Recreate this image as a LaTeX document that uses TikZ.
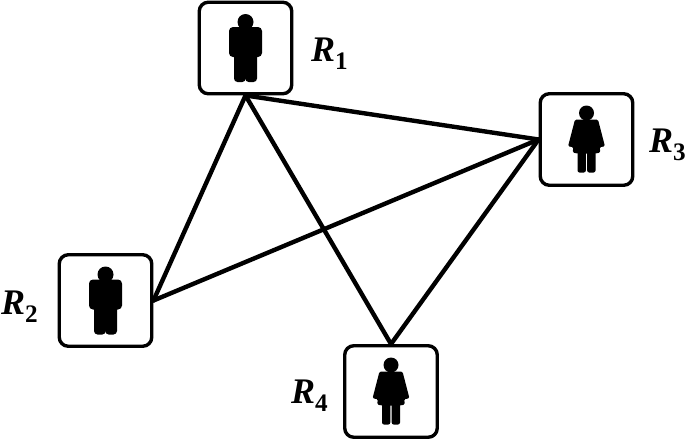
\documentclass[tikz,border=0pt]{standalone}
\usepackage{fontspec}
\setmainfont{Liberation Serif}
\tikzset{
  x=1pt,y=-1pt,
  personbox/.style={draw=black,line width=3.4pt,rounded corners=9pt,minimum width=92.5pt,minimum height=91.5pt,inner sep=0pt,fill=white},
  link/.style={draw=black,line width=4.4pt,line cap=round},
  rlabel/.style={inner sep=0pt,font=\fontsize{36}{36}\selectfont\bfseries\itshape},
  man/.pic={
    \fill[black] (0,-26) circle[radius=8];
    \fill[black,rounded corners=4pt] (-16.5,-21) rectangle (16.5,9);
    \fill[black,rounded corners=3.5pt] (-11.5,-10) rectangle (0.3,34);
    \fill[black,rounded corners=3.5pt] (-0.3,-10) rectangle (11.5,34);
  },
  woman/.pic={
    \fill[black] (0,-26.5) circle[radius=7.5];
    \fill[black,rounded corners=1.5pt] (-11.5,-20) -- (11.5,-20) -- (18.5,7) -- (13,7.5) -- (14,13) -- (9,14) -- (-9,14) -- (-14,13) -- (-13,7.5) -- (-18.5,7) -- cycle;
    \fill[black,rounded corners=2pt] (-9,10) -- (-0.7,10) -- (-0.7,33) -- (-9,33) -- cycle;
    \fill[black,rounded corners=2pt] (0.7,10) -- (9,10) -- (9,33) -- (0.7,33) -- cycle;
  },
}
\begin{document}
\begin{tikzpicture}
\useasboundingbox (0,0) rectangle (685,440);
\node[personbox] (r1) at (245.5,48) {};
\node[personbox] (r2) at (105.5,300.5) {};
\node[personbox] (r3) at (586.5,139.5) {};
\node[personbox] (r4) at (391,391.5) {};
\draw[link] (r1.south) -- (r2.east);
\draw[link] (r1.south) -- (r3.west);
\draw[link] (r1.south) -- (r4.north);
\draw[link] (r2.east) -- (r3.west);
\draw[link] (r3.west) -- (r4.north);
\pic at (r1.center) {man};
\pic at (r2.center) {man};
\pic at (r3.center) {woman};
\pic at (r4.center) {woman};
\node[rlabel,anchor=base west] (l1) at (311,61) {R\textsubscript{\textup{1}}};
\node[rlabel,anchor=base west] (l2) at (1,314) {R\textsubscript{\textup{2}}};
\node[rlabel,anchor=base west] (l3) at (649,152) {R\textsubscript{\textup{3}}};
\node[rlabel,anchor=base west] (l4) at (291,403) {R\textsubscript{\textup{4}}};
\end{tikzpicture}
\end{document}
